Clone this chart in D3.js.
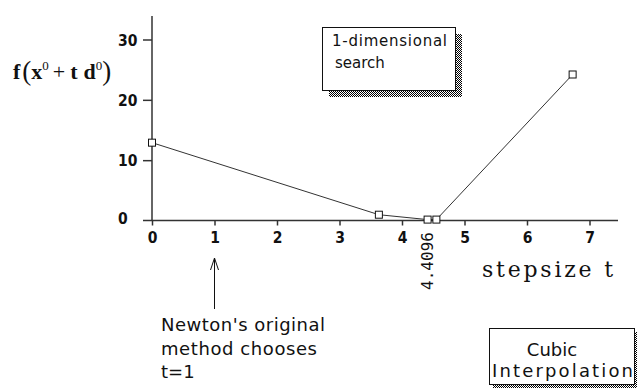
<!DOCTYPE html>
<html>
<head>
<meta charset="utf-8">
<script src="https://cdn.jsdelivr.net/npm/d3@7"></script>
<style>
  html, body { margin: 0; padding: 0; background: #fff; }
  svg { display: block; }
</style>
</head>
<body>
<svg id="chart" width="637" height="392"></svg>
<script>
// Line-search samples: step size t and objective value f(x0 + t d0)
const stepT  = [0, 3.63, 4.4096, 4.55, 6.73];
const fValue = [12.9, 0.96, 0.15, 0.15, 24.2];

// Axis ticks
const xTicks = [0, 1, 2, 3, 4, 5, 6, 7];
const yTicks = [0, 10, 20, 30];

// The step Newton's method would take, and the minimiser found
const newtonStep = 1;
const minimiserLabel = "4.4096";

const svg = d3.select("#chart");
const ink = "#333";
const tickFont = "'DejaVu Sans Condensed', 'DejaVu Sans'";

const x = d3.scaleLinear().domain([0, 7]).range([152, 589.5]);
const y = d3.scaleLinear().domain([0, 30]).range([220.5, 39.5]);

// dithered shadow fill
const defs = svg.append("defs");
const pat = defs.append("pattern")
  .attr("id", "dither").attr("width", 2).attr("height", 2)
  .attr("patternUnits", "userSpaceOnUse");
pat.append("rect").attr("width", 2).attr("height", 2).attr("fill", "#fff");
pat.append("rect").attr("width", 1).attr("height", 1).attr("fill", "#000");
pat.append("rect").attr("x", 1).attr("y", 1).attr("width", 1).attr("height", 1).attr("fill", "#000");

// axis lines
svg.append("line").attr("x1", x(0)).attr("x2", x(0)).attr("y1", 16).attr("y2", y(0))
  .attr("stroke", ink).attr("stroke-width", 1.5);
svg.append("line").attr("x1", 143).attr("x2", 618).attr("y1", y(0)).attr("y2", y(0))
  .attr("stroke", ink).attr("stroke-width", 1.5);

// y axis ticks and labels
const yAxis = svg.append("g").attr("transform", `translate(${x(0)},0)`)
  .call(d3.axisLeft(y).tickValues(yTicks).tickSize(9).tickFormat(d3.format("d")));
yAxis.select(".domain").remove();
yAxis.selectAll(".tick line").attr("stroke", ink).attr("stroke-width", 1.5)
  .attr("display", d => d === 0 ? "none" : null);
yAxis.selectAll(".tick text")
  .attr("x", 118 - x(0)).attr("text-anchor", "start")
  .attr("dy", "0.36em")
  .attr("font-family", tickFont).attr("font-weight", "bold").attr("font-size", 15.5)
  .attr("fill", "#111");
yAxis.selectAll(".tick").filter(d => d === 0).select("text").attr("dy", "0.2em");

// x axis ticks and labels
const xAxis = svg.append("g").attr("transform", `translate(0,${y(0)})`)
  .call(d3.axisBottom(x).tickValues(xTicks).tickSize(5).tickPadding(6).tickFormat(d3.format("d")));
xAxis.select(".domain").remove();
xAxis.selectAll(".tick line").attr("stroke", ink).attr("stroke-width", 1.5);
xAxis.selectAll(".tick text")
  .attr("font-family", tickFont).attr("font-weight", "bold").attr("font-size", 15.5)
  .attr("fill", "#111");

// data line and markers
const pts = stepT.map((t, i) => [t, fValue[i]]);
svg.append("path").datum(pts)
  .attr("d", d3.line().x(d => x(d[0])).y(d => y(d[1])))
  .attr("fill", "none").attr("stroke", ink).attr("stroke-width", 1);
svg.selectAll("rect.pt").data(pts).join("rect").attr("class", "pt")
  .attr("x", d => x(d[0]) - 3.5).attr("y", d => y(d[1]) - 3.5)
  .attr("width", 7).attr("height", 7)
  .attr("fill", "#fff").attr("stroke", "#111").attr("stroke-width", 1);

// axis titles
const yTitle = svg.append("text").attr("x", 13).attr("y", 79)
  .attr("font-family", "Liberation Serif").attr("font-weight", "bold").attr("font-size", 22)
  .attr("fill", "#111");
yTitle.append("tspan").text("f");
yTitle.append("tspan").attr("font-weight", "normal").attr("font-size", 27).attr("dx", 2).attr("dy", 1).text("(");
yTitle.append("tspan").attr("dy", -1).text("x");
yTitle.append("tspan").attr("font-weight", "normal").attr("font-size", 13).attr("dy", -9).text("0");
yTitle.append("tspan").attr("font-weight", "normal").attr("dy", 9).attr("dx", 4).text("+");
yTitle.append("tspan").attr("dx", 5).text("t");
yTitle.append("tspan").attr("dx", 6).text("d");
yTitle.append("tspan").attr("font-weight", "normal").attr("font-size", 13).attr("dy", -9).text("0");
yTitle.append("tspan").attr("font-weight", "normal").attr("font-size", 27).attr("dy", 10).text(")");

svg.append("text").attr("x", 482).attr("y", 277)
  .attr("font-family", "DejaVu Serif").attr("font-size", 22).attr("fill", "#111")
  .attr("textLength", 131).attr("lengthAdjust", "spacing").text("stepsize t");

// minimiser value, written vertically below the axis
svg.append("text")
  .attr("transform", `translate(${x(4.4096) + 5.5},${261}) rotate(-90)`)
  .attr("text-anchor", "middle")
  .attr("font-family", "DejaVu Sans Mono").attr("font-size", 16).attr("fill", "#111")
  .text(minimiserLabel);

// boxed notes with drop shadows
function note(bx, by, w, h, sh, lines, size) {
  svg.append("rect").attr("x", bx + sh).attr("y", by + sh).attr("width", w).attr("height", h)
    .attr("fill", "url(#dither)").attr("shape-rendering", "crispEdges");
  svg.append("rect").attr("x", bx + 0.5).attr("y", by + 0.5).attr("width", w).attr("height", h)
    .attr("fill", "#fff").attr("stroke", "#111").attr("stroke-width", 1)
    .attr("shape-rendering", "crispEdges");
  lines.forEach(l => {
    const t = svg.append("text").attr("x", l.x).attr("y", l.y)
      .attr("font-family", "DejaVu Sans").attr("font-size", size).attr("fill", "#111")
      .attr("text-anchor", l.anchor || "start").text(l.text);
    if (l.len) t.attr("textLength", l.len).attr("lengthAdjust", "spacing");
  });
}
note(322, 27, 133, 63, 7, [
  { x: 332, y: 46, text: "1-dimensional", len: 115 },
  { x: 335, y: 68, text: "search" }
], 15);
note(489, 328, 145, 56, 4, [
  { x: 552, y: 356, text: "Cubic", anchor: "middle" },
  { x: 492, y: 377, text: "Interpolation", len: 141 }
], 18);

// arrow pointing at Newton's step
const ax = x(newtonStep);
svg.append("line").attr("x1", ax).attr("x2", ax).attr("y1", 258).attr("y2", 309)
  .attr("stroke", "#111").attr("stroke-width", 1);
svg.append("path")
  .attr("d", `M${ax - 4},${270} L${ax},${258} L${ax + 4},${270}`)
  .attr("fill", "none").attr("stroke", "#111").attr("stroke-width", 1);

const note2 = [
  { text: "Newton's original", y: 331, len: 164 },
  { text: "method chooses", y: 355, len: 156 },
  { text: "t=1", y: 378 }
];
note2.forEach(l => {
  const t = svg.append("text").attr("x", 161).attr("y", l.y)
    .attr("font-family", "DejaVu Sans").attr("font-size", 18).attr("fill", "#111").text(l.text);
  if (l.len) t.attr("textLength", l.len).attr("lengthAdjust", "spacing");
});
</script>
</body>
</html>
